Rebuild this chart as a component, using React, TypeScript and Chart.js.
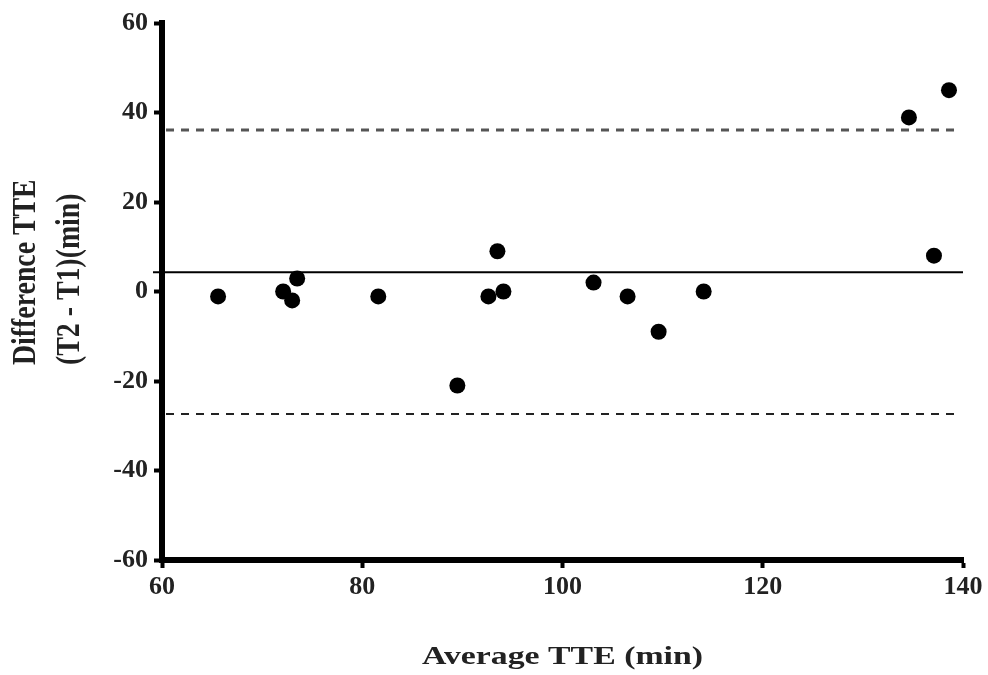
import React, { useEffect, useRef } from 'react';
import { Chart, registerables } from 'chart.js';

Chart.register(...registerables);

// ---- data ----
const averageTTE = [65.6, 72.1, 73.0, 73.5, 81.6, 89.5, 92.6, 93.5, 94.1, 103.1, 106.5, 109.6, 114.1, 134.6, 137.1, 138.6];
const differenceTTE = [-1.1, 0, -2.0, 2.9, -1.1, -21.0, -1.1, 9.0, 0, 2.0, -1.1, -9.0, 0, 38.9, 8.0, 45.0];
const meanDiff = 4.3;
const upperLoA = 36.1;
const lowerLoA = -27.4;
const meanLineX = [59.1, 140];
const loaLineX = [60.4, 139.5];
const xRange = [60, 140];
const yRange = [-60, 60];
const tickStep = 20;
const xTitle = 'Average TTE (min)';
const yTitleLines = ['Difference TTE', '(T2 - T1)(min)'];

const FONT = '"Liberation Serif", "Times New Roman", serif';

const titlePlugin = {
  id: 'stretchedTitles',
  afterDraw(chart: any) {
    const ctx = chart.ctx;
    const area = chart.chartArea;
    ctx.save();
    ctx.fillStyle = '#222';
    ctx.font = `bold 26px ${FONT}`;
    // x title
    ctx.save();
    ctx.translate((area.left + area.right) / 2, 664);
    ctx.scale(1.3, 1);
    ctx.textAlign = 'center';
    ctx.textBaseline = 'alphabetic';
    ctx.fillText(xTitle, 0, 0);
    ctx.restore();
    // y title (two lines, start-aligned)
    const lineX = [35, 79];
    yTitleLines.forEach((t, i) => {
      ctx.save();
      ctx.translate(lineX[i], 365);
      ctx.rotate(-Math.PI / 2);
      ctx.scale(1.07, 1.3);
      ctx.textAlign = 'left';
      ctx.textBaseline = 'alphabetic';
      ctx.fillText(t, 0, 0);
      ctx.restore();
    });
    ctx.restore();
  },
};

export default function App() {
  const canvasRef = useRef<HTMLCanvasElement | null>(null);

  useEffect(() => {
    if (!canvasRef.current) return;
    const points = averageTTE.map((x, i) => ({ x, y: differenceTTE[i] }));
    const chart = new Chart(canvasRef.current, {
      type: 'scatter',
      data: {
        datasets: [
          {
            label: 'Difference',
            data: points,
            pointRadius: 8,
            pointHoverRadius: 8,
            backgroundColor: '#000',
            borderWidth: 0,
            showLine: false,
          },
          {
            label: 'Mean',
            data: meanLineX.map((x) => ({ x, y: meanDiff })),
            showLine: true,
            borderColor: '#000',
            borderWidth: 2,
            pointRadius: 0,
            clip: false,
          } as any,
          {
            label: 'Upper LoA',
            data: loaLineX.map((x) => ({ x, y: upperLoA })),
            showLine: true,
            borderColor: '#555',
            borderWidth: 3,
            borderDash: [8, 7],
            pointRadius: 0,
          },
          {
            label: 'Lower LoA',
            data: loaLineX.map((x) => ({ x, y: lowerLoA })),
            showLine: true,
            borderColor: '#222',
            borderWidth: 2,
            borderDash: [8, 7],
            pointRadius: 0,
          },
        ],
      },
      options: {
        animation: false,
        responsive: false,
        layout: { padding: { top: 23, right: 25, left: 0, bottom: 0 } },
        plugins: {
          legend: { display: false },
          tooltip: { enabled: false },
          title: { display: false },
        },
        scales: {
          x: {
            type: 'linear',
            position: 'bottom',
            min: xRange[0],
            max: xRange[1],
            ticks: {
              stepSize: tickStep,
              color: '#222',
              padding: 4,
              font: { family: FONT, size: 26, weight: 'bold' },
            },
            grid: {
              display: true,
              drawOnChartArea: false,
              drawTicks: true,
              tickLength: 8,
              tickWidth: 4,
              tickColor: '#000',
            },
            border: { display: true, width: 6, color: '#000' },
            afterFit: (s: any) => {
              s.height = 115;
            },
          },
          y: {
            type: 'linear',
            min: yRange[0],
            max: yRange[1],
            ticks: {
              stepSize: tickStep,
              color: '#222',
              padding: 6,
              font: { family: FONT, size: 26, weight: 'bold' },
            },
            grid: {
              display: true,
              drawOnChartArea: false,
              drawTicks: true,
              tickLength: 8,
              tickWidth: 4,
              tickColor: '#000',
            },
            border: { display: true, width: 6, color: '#000' },
            afterFit: (s: any) => {
              s.width = 162;
            },
          },
        },
      },
      plugins: [titlePlugin],
    });
    return () => chart.destroy();
  }, []);

  return (
    <div style={{ position: 'absolute', left: 0, top: 0, width: 988, height: 675, background: '#fff' }}>
      <canvas ref={canvasRef} width={988} height={675} style={{ display: 'block' }} />
    </div>
  );
}
